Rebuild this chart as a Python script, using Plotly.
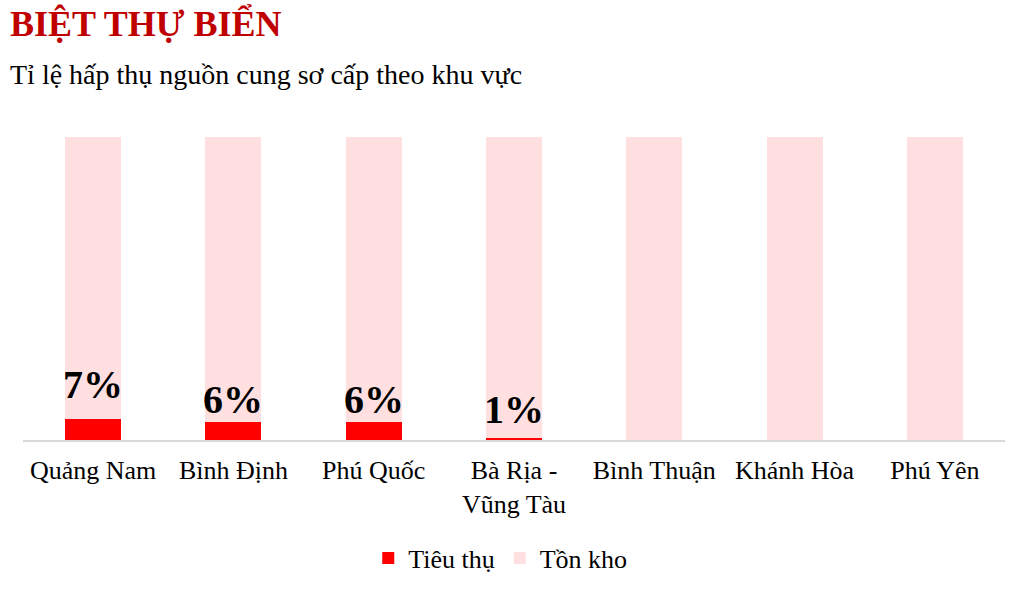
import plotly.graph_objects as go

OUT_HTML = "out.html"

regions = ["Quảng Nam", "Bình Định", "Phú Quốc", "Bà Rịa -<br>Vũng Tàu",
           "Bình Thuận", "Khánh Hòa", "Phú Yên"]
tieu_thu = [7, 6, 6, 0.7, 0, 0, 0]
ton_kho = [93, 94, 94, 99.3, 100, 100, 100]
labels = ["7%", "6%", "6%", "1%", "", "", ""]

FONT = "Liberation Serif, Times New Roman, serif"
LABEL_SHIFT = [10, -2, -2, 4, 0, 0, 0]  # labels were nudged by hand in the original


def build_figure():
    fig = go.Figure()
    fig.add_trace(go.Bar(x=regions, y=tieu_thu, name="Tiêu thụ",
                         marker=dict(color="#FF0000", line=dict(width=0))))
    fig.add_trace(go.Bar(x=regions, y=ton_kho, name="Tồn kho",
                         marker=dict(color="#FFDFDF", line=dict(width=0))))

    # percentage labels sit just above the red segment
    for r, v, t, s in zip(regions, tieu_thu, labels, LABEL_SHIFT):
        if t:
            fig.add_annotation(x=r, y=v, text="<b>" + t + "</b>", showarrow=False,
                               yanchor="bottom", yshift=s,
                               font=dict(family=FONT, size=40, color="#000000"))

    fig.update_layout(
        barmode="stack",
        bargap=0.6,
        width=1025, height=594,
        margin=dict(l=23, r=20, t=137, b=154),
        plot_bgcolor="white", paper_bgcolor="white",
        font=dict(family=FONT, size=26, color="#000000"),
        showlegend=True,
        legend=dict(orientation="h", x=0.486, xanchor="center", y=-0.39, yanchor="middle",
                    font=dict(family=FONT, size=26), traceorder="normal"),
        annotations=list(fig.layout.annotations) + [
            dict(text="<b>BIỆT THỰ BIỂN</b>", xref="paper", yref="paper",
                 x=-0.0155, y=1.373, xanchor="left", yanchor="middle", showarrow=False,
                 font=dict(family=FONT, size=36, color="#C00000")),
            dict(text="Tỉ lệ hấp thụ nguồn cung sơ cấp theo khu vực", xref="paper", yref="paper",
                 x=-0.0155, y=1.205, xanchor="left", yanchor="middle", showarrow=False,
                 font=dict(family=FONT, size=28, color="#000000")),
        ],
    )
    fig.update_xaxes(showline=True, linecolor="#D9D9D9", linewidth=2, ticks="",
                     ticklabelstandoff=6, tickfont=dict(family=FONT, size=26))
    fig.update_yaxes(range=[0, 100], visible=False, showgrid=False)
    return fig


def main():
    fig = build_figure()
    # drop the default body margin so the figure fills the window
    fig.write_html(OUT_HTML, config={"displayModeBar": False},
                   post_script="document.body.style.margin='0';")


if __name__ == "__main__":
    main()
